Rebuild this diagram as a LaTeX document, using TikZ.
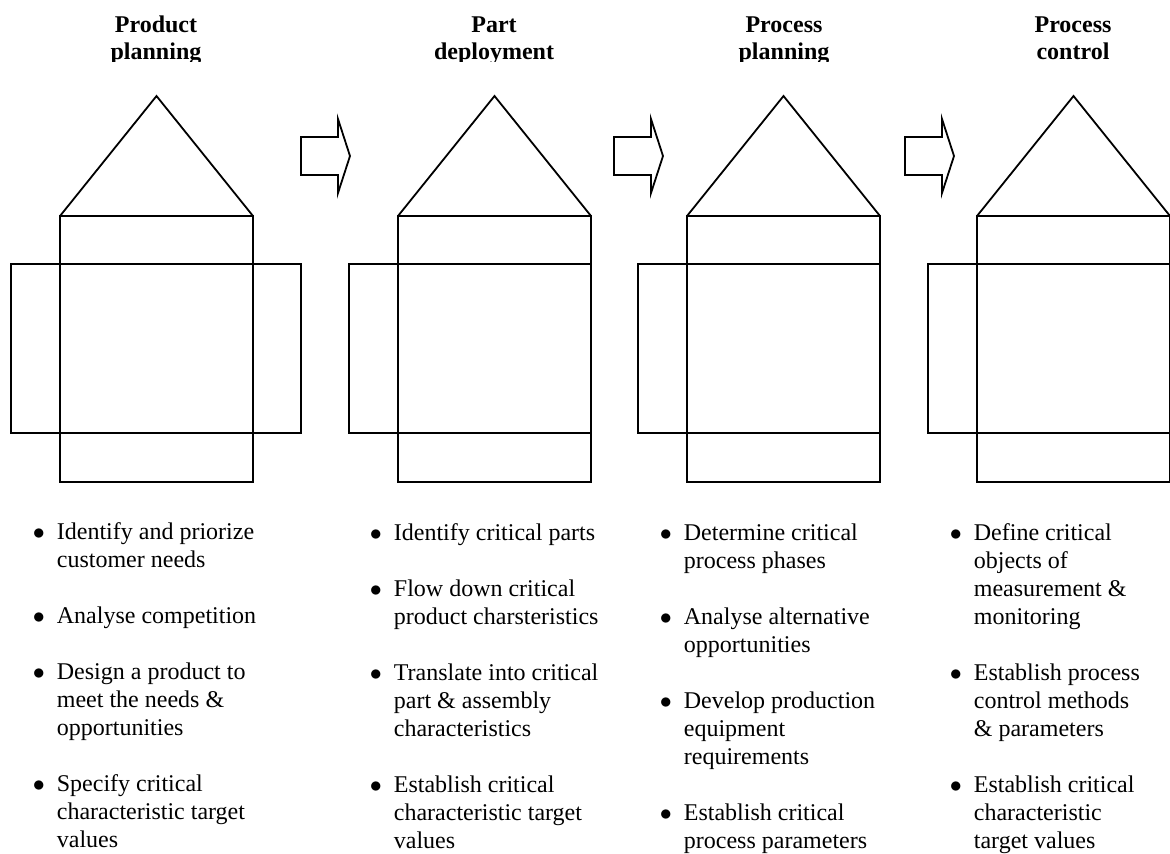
\documentclass[tikz,border=0pt]{standalone}
\usepackage{fontspec}
\setmainfont{Liberation Serif}
\def\hw{193}
\def\wg{49}
\def\apex{96}
\def\eave{216}
\def\wtop{264}
\def\wbot{433}
\def\base{482}
\newcommand{\bul}{\makebox[12pt][l]{$\bullet$}}
\newcommand{\ind}{\hspace*{12pt}}

\begin{document}
\begin{tikzpicture}[x=0.5pt, y=-0.5pt, line width=0.9pt,
  head/.style={inner sep=0pt, anchor=base, font=\fontsize{12}{13.5}\selectfont\bfseries},
  steps/.style={inner sep=0pt, anchor=base west, font=\fontsize{12}{14}\selectfont}]
  \useasboundingbox (0,0) rectangle (1170,853);

    % headings (cut at the bottom)
  \begin{scope}
    \clip (0,0) rectangle (1170,61);
    \node[head] (h1) at (156,32) {\begin{tabular}[t]{@{}c@{}}Product\\planning\end{tabular}};
    \node[head] (h2) at (494,32) {\begin{tabular}[t]{@{}c@{}}Part\\deployment\end{tabular}};
    \node[head] (h3) at (784,32) {\begin{tabular}[t]{@{}c@{}}Process\\planning\end{tabular}};
    \node[head] (h4) at (1073,32) {\begin{tabular}[t]{@{}c@{}}Process\\control\end{tabular}};
  \end{scope}

    % houses
  \foreach \hx in {60,398,687,977} {
    \draw (\hx,\eave) -- (\hx+\hw/2,\apex) -- (\hx+\hw,\eave);
    \draw (\hx,\eave) rectangle (\hx+\hw,\base);
    \draw (\hx-\wg,\wtop) rectangle (\hx+\hw,\wbot);
  }
  % right wing of the first house
  \draw (60+\hw,\wtop) rectangle (60+\hw+\wg-1,\wbot);

    % block arrows
  \foreach \ax in {301,614,905}
    \draw (\ax,137) -- ++(37,0) -- ++(0,-18) -- ++(12,37) -- ++(-12,37) -- ++(0,-18) -- ++(-37,0) -- cycle;

    % steps
  \node[steps] (s1) at (32,539) {\begin{tabular}[t]{@{}l@{}}
    \bul Identify and priorize\\
    \ind customer needs\\[14pt]
    \bul Analyse competition\\[14pt]
    \bul Design a product to\\
    \ind meet the needs \&\\
    \ind opportunities\\[14pt]
    \bul Specify critical\\
    \ind characteristic target\\
    \ind values
  \end{tabular}};
  \node[steps] (s2) at (369,540) {\begin{tabular}[t]{@{}l@{}}
    \bul Identify critical parts\\[14pt]
    \bul Flow down critical\\
    \ind product charsteristics\\[14pt]
    \bul Translate into critical\\
    \ind part \& assembly\\
    \ind characteristics\\[14pt]
    \bul Establish critical\\
    \ind characteristic target\\
    \ind values
  \end{tabular}};
  \node[steps] (s3) at (659,540) {\begin{tabular}[t]{@{}l@{}}
    \bul Determine critical\\
    \ind process phases\\[14pt]
    \bul Analyse alternative\\
    \ind opportunities\\[14pt]
    \bul Develop production\\
    \ind equipment\\
    \ind requirements\\[14pt]
    \bul Establish critical\\
    \ind process parameters
  \end{tabular}};
  \node[steps] (s4) at (949,540) {\begin{tabular}[t]{@{}l@{}}
    \bul Define critical\\
    \ind objects of\\
    \ind measurement \&\\
    \ind monitoring\\[14pt]
    \bul Establish process\\
    \ind control methods\\
    \ind \& parameters\\[14pt]
    \bul Establish critical\\
    \ind characteristic\\
    \ind target values
  \end{tabular}};
\end{tikzpicture}
\end{document}
